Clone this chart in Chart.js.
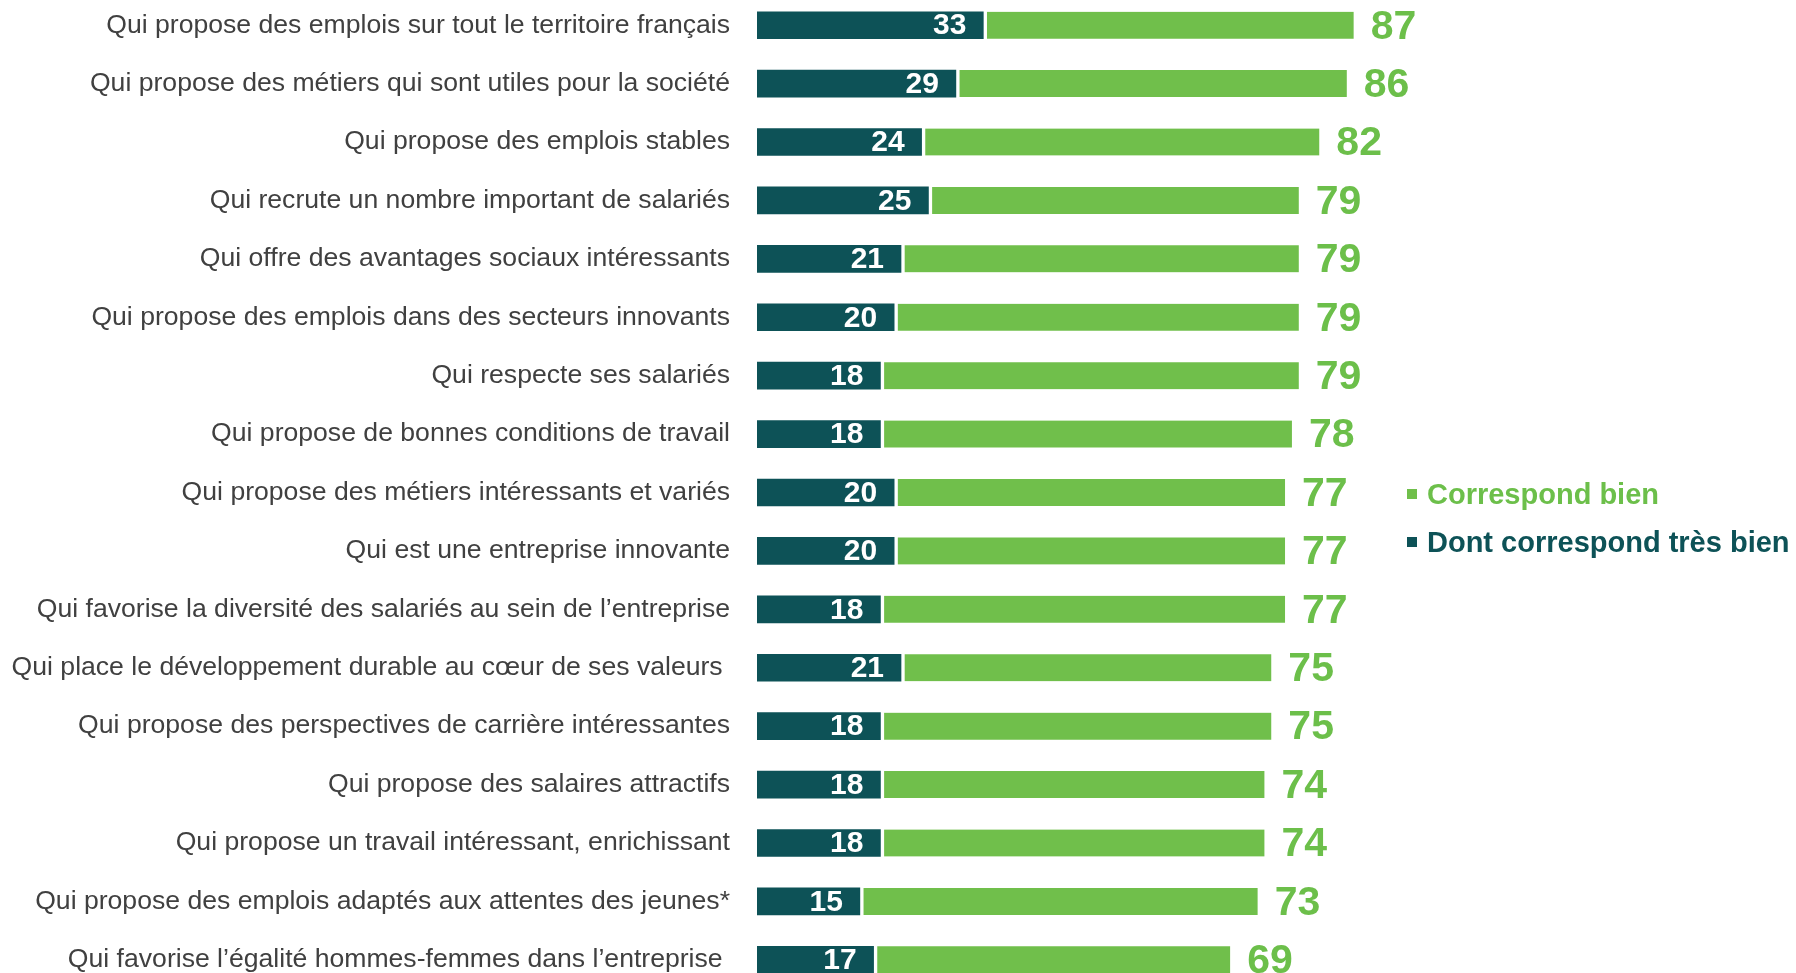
<!DOCTYPE html>
<html>
<head>
<meta charset="utf-8">
<script src="https://cdn.jsdelivr.net/npm/chart.js@4.4.0/dist/chart.umd.min.js"></script>
<style>
    html, body { margin: 0; padding: 0; background: #fff; width: 1796px; height: 973px; overflow: hidden; position: relative; }
    #chart { position: absolute; left: 0; top: -4px; }
    .legend { position: absolute; left: 1407px; font-family: "Liberation Sans", Arial, sans-serif; font-weight: bold; font-size: 29px; white-space: nowrap; }
    .legend span.box { display: inline-block; width: 10px; height: 10px; margin-right: 10px; vertical-align: middle; position: relative; top: -2px; }
</style>
</head>
<body>
<canvas id="chart" width="1796" height="993"></canvas>
<div class="legend" style="top: 478px; color: #6cbf4a;"><span class="box" style="background:#70bf4b"></span>Correspond bien</div>
<div class="legend" style="top: 526px; color: #0d5257;"><span class="box" style="background:#0d5257"></span>Dont correspond très bien</div>
<script>
// Items (top to bottom)
const categories = [
    "Qui propose des emplois sur tout le territoire français",
    "Qui propose des métiers qui sont utiles pour la société",
    "Qui propose des emplois stables",
    "Qui recrute un nombre important de salariés",
    "Qui offre des avantages sociaux intéressants",
    "Qui propose des emplois dans des secteurs innovants",
    "Qui respecte ses salariés",
    "Qui propose de bonnes conditions de travail",
    "Qui propose des métiers intéressants et variés",
    "Qui est une entreprise innovante",
    "Qui favorise la diversité des salariés au sein de l’entreprise",
    "Qui place le développement durable au cœur de ses valeurs ",
    "Qui propose des perspectives de carrière intéressantes",
    "Qui propose des salaires attractifs",
    "Qui propose un travail intéressant, enrichissant",
    "Qui propose des emplois adaptés aux attentes des jeunes*",
    "Qui favorise l’égalité hommes-femmes dans l’entreprise "
];

// % "Correspond bien" (total)
const correspondBien = [87, 86, 82, 79, 79, 79, 79, 78, 77, 77, 77, 75, 75, 74, 74, 73, 69];

// % "Dont correspond très bien"
const tresBien = [33, 29, 24, 25, 21, 20, 18, 18, 20, 20, 18, 21, 18, 18, 18, 15, 17];

const DARK = "#0d5257";
const GREEN = "#70bf4b";

// green part of the stacked bar = total minus the "très bien" part
const reste = correspondBien.map((v, i) => v - tresBien[i]);

const valueLabels = {
    id: "valueLabels",
    afterDatasetsDraw(chart) {
        const ctx = chart.ctx;
        ctx.save();
        ctx.textBaseline = "middle";

        chart.getDatasetMeta(0).data.forEach((bar, i) => {
            ctx.fillStyle = "#fff";
            ctx.font = "bold 30px 'Liberation Sans', Arial, sans-serif";
            ctx.textAlign = "right";
            ctx.fillText(tresBien[i], bar.x - 17, bar.y + 1);
        });

        chart.getDatasetMeta(1).data.forEach((bar, i) => {
            ctx.fillStyle = "#6cbf4a";
            ctx.font = "bold 41px 'Liberation Sans', Arial, sans-serif";
            ctx.textAlign = "left";
            ctx.fillText(correspondBien[i], bar.x + 17, bar.y + 2);
        });
        ctx.restore();
    }
};

new Chart(document.getElementById("chart").getContext("2d"), {
    type: "bar",
    data: {
        labels: categories,
        datasets: [
            {
                label: "Dont correspond très bien",
                data: tresBien,
                backgroundColor: DARK,
                borderWidth: 0,
                barThickness: 27
            },
            {
                label: "Correspond bien",
                data: reste,
                backgroundColor: GREEN,
                borderColor: "#fff",
                borderWidth: { left: 4, right: 0, top: 0, bottom: 0 },
                borderSkipped: false,
                barThickness: 27
            }
        ]
    },
    options: {
        indexAxis: "y",
        responsive: false,
        animation: false,
        layout: { padding: 0 },
        plugins: {
            legend: { display: false },
            tooltip: { enabled: false }
        },
        scales: {
            x: {
                stacked: true,
                display: false,
                min: 0,
                max: 151.5
            },
            y: {
                stacked: true,
                grid: { display: false, drawTicks: false },
                border: { display: false },
                ticks: {
                    color: "#404040",
                    padding: 27,
                    font: { family: "'Liberation Sans', Arial, sans-serif", size: 26.6 }
                },
                afterFit(scale) {
                    scale.width = 757;
                    // no extra room above/below: bars fill the whole height
                    scale.paddingTop = 0;
                    scale.paddingBottom = 0;
                }
            }
        }
    },
    plugins: [valueLabels]
});
</script>
</body>
</html>
